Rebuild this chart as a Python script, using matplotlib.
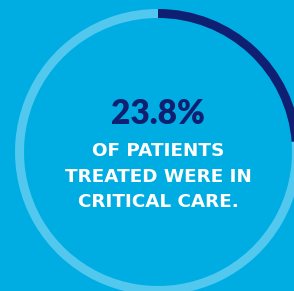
import matplotlib
matplotlib.use("Agg")
import matplotlib.pyplot as plt

# Data
share_critical = 23.8
share_other = 100 - share_critical
value_label = "23.8%"
caption_lines = ["OF PATIENTS", "TREATED WERE IN", "CRITICAL CARE."]

BG = "#00ADE3"
RING = "#52C8EE"
NAVY = "#0F1F72"
W, H = 294, 291

fig = plt.figure(figsize=(W / 100, H / 100), dpi=100, facecolor=BG)
ax = fig.add_axes([0, 0, 1, 1])
ax.set_facecolor(BG)

cx, cy, r = 158, H - 152, 143
ax.pie([share_critical, share_other], colors=[NAVY, RING], startangle=90,
       counterclock=False, radius=r, center=(cx, cy),
       wedgeprops=dict(width=9, linewidth=0))
ax.set_xlim(0, W)
ax.set_ylim(0, H)
ax.set_aspect("auto")
ax.axis("off")

ax.text(158, H - 114, value_label, ha="center", va="center", color=NAVY,
        fontsize=24, fontweight="heavy", family="Lato")
for i, line in enumerate(caption_lines):
    ax.text(158.5, H - (151 + 25.5 * i), line, ha="center", va="center",
            color="white", fontsize=13.2, fontweight="bold", family="DejaVu Sans")

fig.savefig("out.png", dpi=100, facecolor=BG)
